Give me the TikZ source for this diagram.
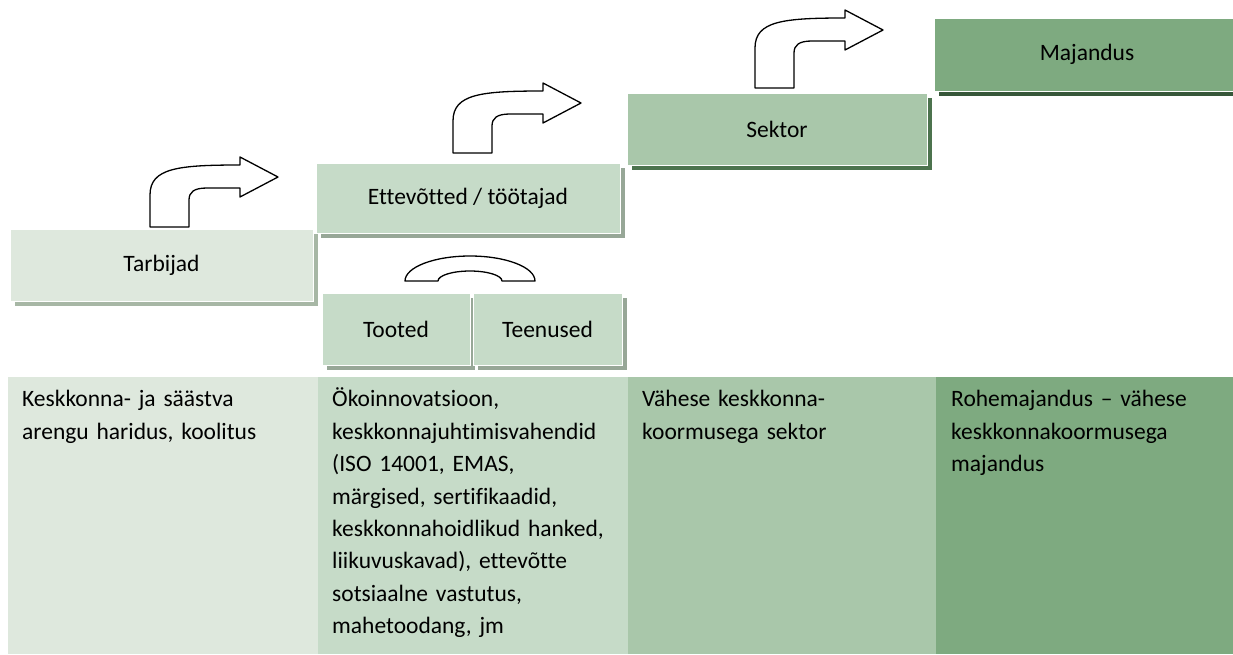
\documentclass[tikz,border=0pt]{standalone}
\usepackage{fontspec}
\setmainfont{Carlito}[Ligatures=NoCommon]
\usetikzlibrary{shadows}

\definecolor{lvlone}{HTML}{DEE8DD}
\definecolor{lvltwo}{HTML}{C6DBC8}
\definecolor{lvlthree}{HTML}{A9C7AA}
\definecolor{lvlfour}{HTML}{7EAA80}
\definecolor{shone}{HTML}{A7B7A5}
\definecolor{shtwo}{HTML}{97A797}
\definecolor{shthree}{HTML}{4C734E}
\definecolor{shfour}{HTML}{37573A}

\tikzset{
  lvlbox/.style={draw=white, line width=1pt, minimum height=72pt, inner sep=0pt,
    font=\fontsize{23.5}{32.4}\selectfont},
  lvlshadow/.style={drop shadow={fill=#1, opacity=1, shadow xshift=5pt, shadow yshift=-5pt}},
  celltext/.style={anchor=north west, inner sep=0pt, align=left, text width=#1,
    font=\fontsize{23.5}{32.4}\selectfont},
  arrowshape/.style={draw=black, fill=white, line width=1.3pt, line join=round}
}

% bent arrow: x, y of the outer bend start, shaft length
\newcommand{\bentarrow}[3]{%
  \draw[arrowshape] (#1,#2+#3) -- (#1,#2)
    .. controls (#1,#2-27) and (#1+28,#2-30) .. (#1+90,#2-30)
    -- (#1+90,#2-38) -- (#1+128,#2-18) -- (#1+90,#2+2) -- (#1+90,#2-7)
    -- (#1+57,#2-7) .. controls (#1+44,#2-7) and (#1+39,#2-3) .. (#1+39,#2+5)
    -- (#1+39,#2+#3) -- cycle;}

\begin{document}
\begin{tikzpicture}[x=1pt, y=-1pt]
    \useasboundingbox (0,0) rectangle (1233,654);

    % bottom table
    \fill[lvlone] (8,377) rectangle (318,654);
    \fill[lvltwo] (318,377) rectangle (628,654);
    \fill[lvlthree] (628,377) rectangle (936,654);
    \fill[lvlfour] (936,377) rectangle (1233,654);
    \node[celltext=290pt] (haridus) at (22,384) {\strut Keskkonna- ja säästva\\arengu haridus, koolitus};
    \node[celltext=290pt] (okoinno) at (332,384) {\strut Ökoinnovatsioon,\\keskkonnajuhtimisvahendid\\(ISO 14001, EMAS,\\märgised, sertifikaadid,\\keskkonnahoidlikud hanked,\\liikuvuskavad), ettevõtte\\sotsiaalne vastutus,\\mahetoodang, jm};
    \node[celltext=290pt] (vahese) at (642,384) {\strut Vähese keskkonna-\\koormusega sektor};
    \node[celltext=280pt] (rohemaj) at (951,384) {\strut Rohemajandus – vähese\\keskkonnakoormusega\\majandus};

    % levels
    \node[lvlbox, lvlshadow=shone, fill=lvlone, minimum width=303pt] (tarbijad) at (161.5,265) {Tarbijad};
    \node[lvlbox, lvlshadow=shtwo, fill=lvltwo, minimum width=304pt, minimum height=70pt] (ettevotted) at (468,198) {Ettevõtted / töötajad};
    \node[lvlbox, lvlshadow=shtwo, fill=lvltwo, minimum width=148pt] (tooted) at (396,329) {Tooted};
    \node[lvlbox, lvlshadow=shtwo, fill=lvltwo, minimum width=149pt] (teenused) at (547.5,329) {Teenused};
    \node[lvlbox, lvlshadow=shthree, fill=lvlthree, minimum width=300pt] (sektor) at (777,129) {Sektor};
    \node[lvlbox, lvlshadow=shfour, fill=lvlfour, minimum width=306pt, minimum height=73pt] (majandus) at (1087,54.5) {Majandus};

    % arrows
    \bentarrow{150}{195}{32}
    \bentarrow{453}{121}{32}
    \bentarrow{755}{48}{40}
    \draw[arrowshape] (405,281) arc[start angle=180, end angle=360, x radius=65, y radius=25]
      -- (502,281) arc[start angle=0, end angle=-180, x radius=32, y radius=10] -- cycle;
\end{tikzpicture}
\end{document}
